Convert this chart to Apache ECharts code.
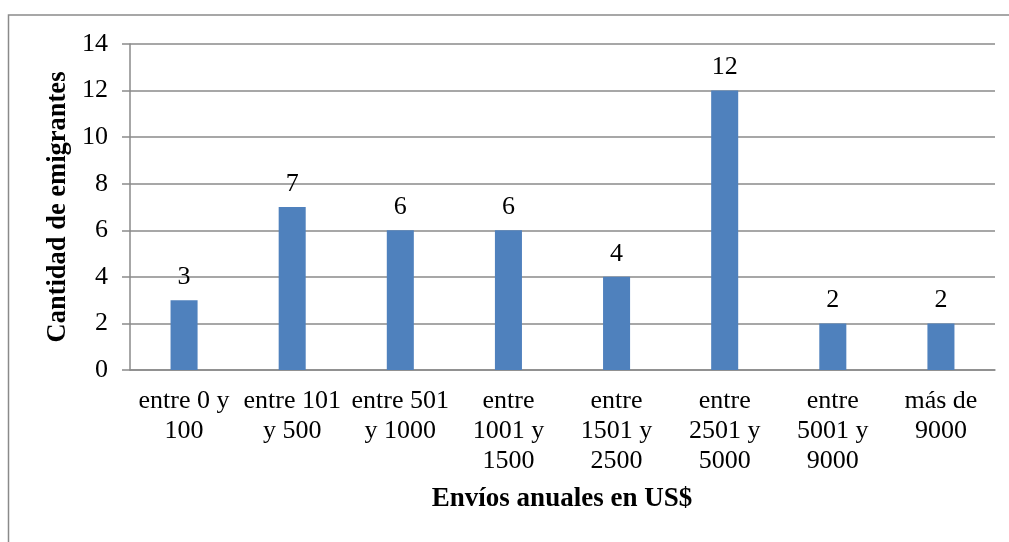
<!DOCTYPE html>
<html>
<head>
<meta charset="utf-8">
<script src="https://cdn.jsdelivr.net/npm/echarts@6/dist/echarts.min.js"></script>
<style>
html,body{margin:0;padding:0;background:#fff;}
#chart{width:1009px;height:542px;}
</style>
</head>
<body>
<div id="chart"></div>
<script>
const categories = ["entre 0 y\n100", "entre 101\ny 500", "entre 501\ny 1000", "entre\n1001 y\n1500", "entre\n1501 y\n2500", "entre\n2501 y\n5000", "entre\n5001 y\n9000", "más de\n9000"];
const values = [3, 7, 6, 6, 4, 12, 2, 2];
const yTicks = [0, 2, 4, 6, 8, 10, 12, 14];
const xTitle = "Envíos anuales en US$";
const yTitle = "Cantidad de emigrantes";

const FONT = '"Liberation Serif", "Times New Roman", serif';
const GRAY = '#8a8a8a';
const chart = echarts.init(document.getElementById('chart'), null, {renderer: 'canvas'});
chart.setOption({
  animation: false,
  backgroundColor: '#fff',
  grid: {left: 130, right: 14, top: 44, bottom: 172, containLabel: false},
  graphic: [
    {type: 'rect', shape: {x: 8.5, y: 15, width: 1100, height: 700}, style: {fill: 'none', stroke: GRAY, lineWidth: 1.5}, silent: true},
    {type: 'text', x: 58, y: 207, rotation: Math.PI / 2, style: {text: yTitle, font: 'bold 26.5px ' + FONT, fill: '#000', textAlign: 'center', textVerticalAlign: 'middle'}},
    {type: 'text', x: 562, y: 499, style: {text: xTitle, font: 'bold 27px ' + FONT, fill: '#000', textAlign: 'center', textVerticalAlign: 'middle'}}
  ],
  xAxis: {
    type: 'category',
    data: categories,
    axisLine: {show: true, lineStyle: {color: GRAY, width: 1.5}},
    axisTick: {show: false},
    axisLabel: {interval: 0, color: '#000', fontFamily: FONT, fontSize: 26, lineHeight: 30, margin: 16}
  },
  yAxis: {
    type: 'value',
    min: yTicks[0],
    max: yTicks[yTicks.length - 1],
    interval: 2,
    axisLine: {show: true, lineStyle: {color: GRAY, width: 1.5}},
    axisTick: {show: true, length: 8, lineStyle: {color: GRAY, width: 1.5}},
    splitLine: {show: true, lineStyle: {color: GRAY, width: 1.5}},
    axisLabel: {color: '#000', fontFamily: FONT, fontSize: 26, margin: 22}
  },
  series: [{
    type: 'bar',
    data: values,
    barWidth: '25%',
    itemStyle: {color: '#4F81BD'},
    label: {show: true, position: 'top', distance: 10, color: '#000', fontFamily: FONT, fontSize: 26}
  }]
});
</script>
</body>
</html>
